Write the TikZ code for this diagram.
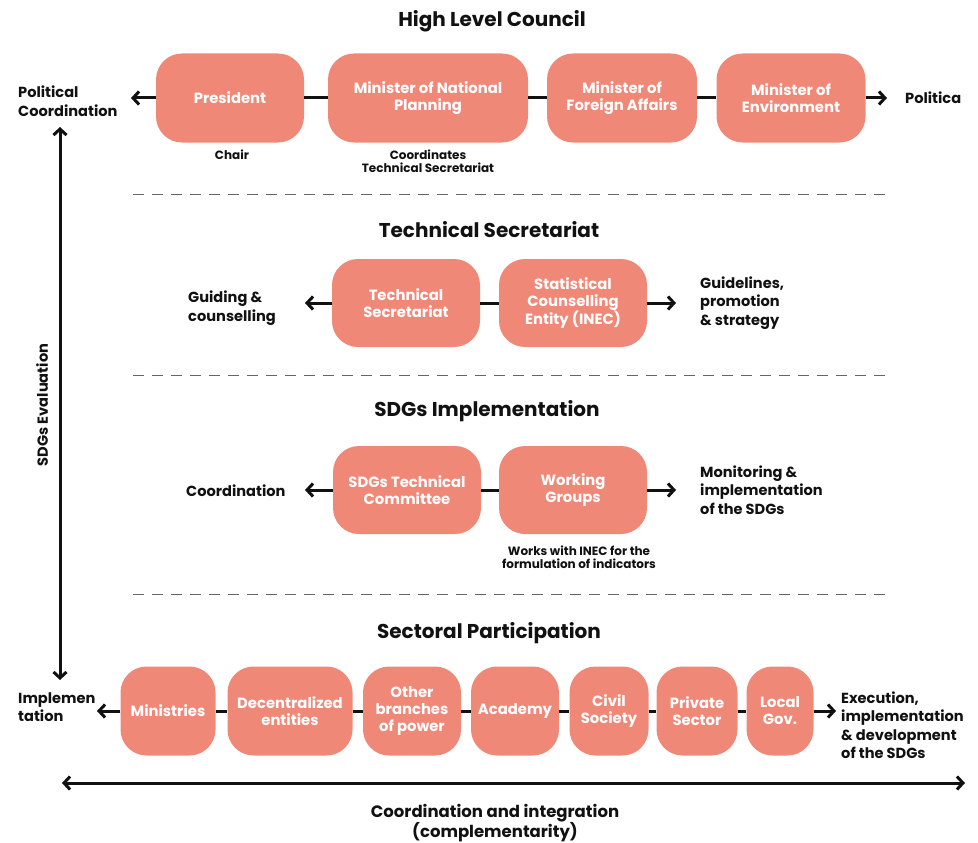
\documentclass[tikz,border=0pt]{standalone}
\usepackage{fontspec}
\setmainfont{Poppins}
\usetikzlibrary{arrows.meta}
\definecolor{boxc}{HTML}{F08878}
\definecolor{ink}{HTML}{111111}
\tikzset{
 box/.style={fill=boxc, rounded corners=26pt, text=white, font=\bfseries\fontsize{14.8}{17}\selectfont, align=center, inner sep=0pt},
 lbl/.style={font=\bfseries\fontsize{14.6}{18.5}\selectfont, align=left, text=ink, inner sep=0pt},
 small/.style={font=\bfseries\fontsize{12}{13.5}\selectfont, align=center, text=ink, inner sep=0pt},
 ttl/.style={font=\bfseries\fontsize{20}{22}\selectfont, text=ink},
 conn/.style={line width=3pt, draw=ink},
 arr/.style={line width=3pt, draw=ink, -{Straight Barb[length=6pt,width=13pt]}},
 darr/.style={line width=3pt, draw=ink, {Straight Barb[length=6pt,width=13pt]}-{Straight Barb[length=6pt,width=13pt]}},
 sep/.style={dash pattern=on 11pt off 8pt, line width=0.8pt, draw=black!60}
}
\begin{document}
\begin{tikzpicture}[x=1pt,y=-1pt]
\useasboundingbox (0,0) rectangle (978,843);
% titles
\node[ttl] (t1) at (492,21) {High Level Council};
\node[ttl] (t2) at (489,230) {Technical Secretariat};
\node[ttl] (t3) at (487,411) {SDGs Implementation};
\node[ttl] (t4) at (489,633) {Sectoral Participation};
% separators
\coordinate (s1a) at (133,194); \coordinate (s1b) at (885,194);
\coordinate (s2a) at (133,375); \coordinate (s2b) at (885,375);
\coordinate (s3a) at (133,594); \coordinate (s3b) at (885,594);
\draw[sep] (s1a) -- (s1b);
\draw[sep] (s2a) -- (s2b);
\draw[sep] (s3a) -- (s3b);
% row 1
\node[box, minimum width=148pt, minimum height=89pt] (pres) at (230,98) {President};
\node[box, minimum width=200pt, minimum height=89pt] (mnp) at (428,98) {Minister of National\\Planning};
\node[box, minimum width=150pt, minimum height=89pt] (mfa) at (622,98) {Minister of\\Foreign Affairs};
\node[box, minimum width=149pt, minimum height=89pt] (men) at (791,98) {Minister of\\Environment};
\coordinate (r1l) at (131,98); \coordinate (r1r) at (887,98);
\draw[conn] (pres) -- (mnp); \draw[conn] (mnp) -- (mfa); \draw[conn] (mfa) -- (men);
\draw[arr] (pres.west) -- (r1l);
\draw[arr] (men.east) -- (r1r);
\node[lbl, anchor=west] (pc) at (18,101) {Political\\Coordination};
\node[lbl, anchor=west] (pc2) at (905,98) {Politica};
\node[small] (chair) at (232,155) {Chair};
\node[small] (coord) at (428,161) {Coordinates\\Technical Secretariat};
% row 2
\node[box, minimum width=148pt, minimum height=88pt] (ts) at (406,303) {Technical\\Secretariat};
\node[box, minimum width=148pt, minimum height=88pt] (sce) at (573,303) {Statistical\\Counselling\\Entity (INEC)};
\coordinate (r2l) at (305,303); \coordinate (r2r) at (676,303);
\draw[conn] (ts) -- (sce);
\draw[arr] (ts.west) -- (r2l);
\draw[arr] (sce.east) -- (r2r);
\node[lbl, anchor=west] (gc) at (188,308) {Guiding \&\\counselling};
\node[lbl, anchor=west] (gps) at (700,303) {Guidelines,\\promotion\\\& strategy};
% row 3
\node[box, minimum width=148pt, minimum height=88pt] (stc) at (407,490) {SDGs Technical\\Committee};
\node[box, minimum width=148pt, minimum height=88pt] (wg) at (573,490) {Working\\Groups};
\coordinate (r3l) at (305,490); \coordinate (r3r) at (676,490);
\draw[conn] (stc) -- (wg);
\draw[arr] (stc.west) -- (r3l);
\draw[arr] (wg.east) -- (r3r);
\node[lbl, anchor=west] (co) at (186,491) {Coordination};
\node[lbl, anchor=west] (mon) at (700,490) {Monitoring \&\\implementation\\of the SDGs};
\node[small] (wi) at (579,557) {Works with INEC for the\\formulation of indicators};
% row 4
\node[box, minimum width=95pt, minimum height=89pt] (min) at (168,711) {Ministries};
\node[box, minimum width=125pt, minimum height=89pt] (dec) at (290,711) {Decentralized\\entities};
\node[box, minimum width=98pt, minimum height=89pt] (oth) at (412,711) {Other\\branches\\of power};
\node[box, minimum width=88pt, minimum height=89pt] (aca) at (515,711) {Academy};
\node[box, minimum width=79pt, minimum height=89pt] (civ) at (609,711) {Civil\\Society};
\node[box, minimum width=81pt, minimum height=89pt] (pri) at (697,711) {Private\\Sector};
\node[box, minimum width=67pt, minimum height=89pt] (loc) at (780,711) {Local\\Gov.};
\coordinate (r4l) at (97,711); \coordinate (r4r) at (836,711);
\draw[conn] (min) -- (dec); \draw[conn] (dec) -- (oth); \draw[conn] (oth) -- (aca);
\draw[conn] (aca) -- (civ); \draw[conn] (civ) -- (pri); \draw[conn] (pri) -- (loc);
\draw[arr] (min.west) -- (r4l);
\draw[arr] (loc.east) -- (r4r);
\node[lbl, anchor=west] (imp) at (18,707) {Implemen\\tation};
\node[lbl, anchor=west] (exe) at (841,725) {Execution,\\implementation\\\& development\\of the SDGs};
% vertical and horizontal axes
\coordinate (va) at (60,127); \coordinate (vb) at (60,680);
\draw[darr] (va) -- (vb);
\node[lbl, rotate=90] (ev) at (42,405) {SDGs Evaluation};
\coordinate (ha) at (62,783); \coordinate (hb) at (965,783);
\draw[darr] (ha) -- (hb);
\node[small, font=\bfseries\fontsize{16.5}{17.5}\selectfont] (ci) at (495,823) {Coordination and integration\\(complementarity)};
\end{tikzpicture}
\end{document}
